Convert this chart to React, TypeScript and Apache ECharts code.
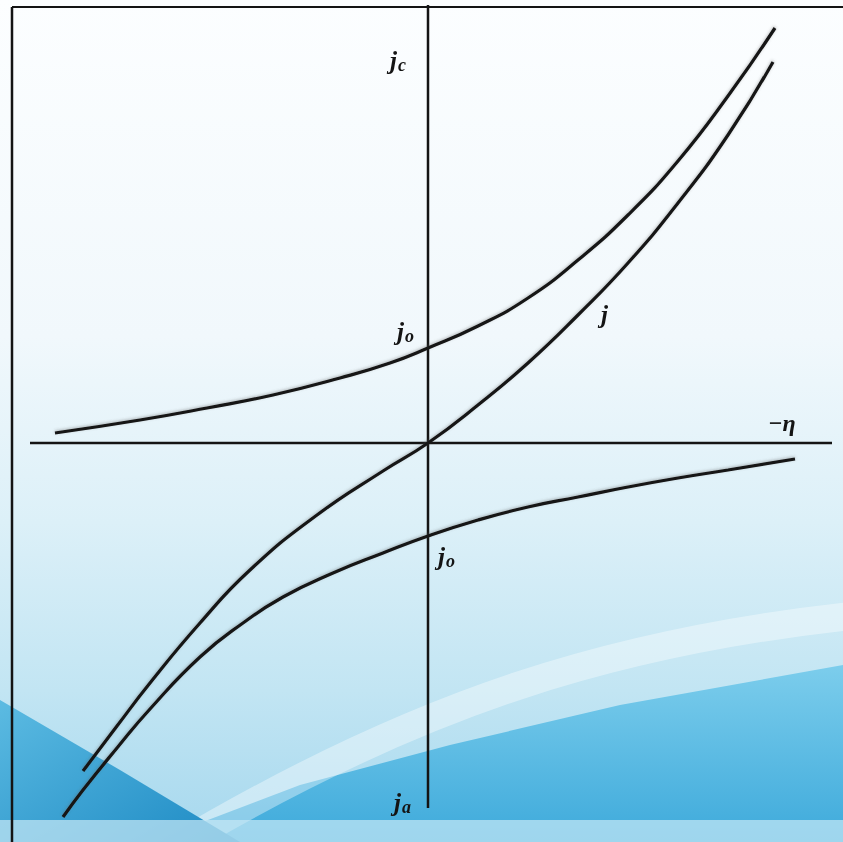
import React, { useEffect, useRef } from "react";
import * as echarts from "echarts";

// Overpotential axis (-η) and current density values, arbitrary units
const jcCurve: [number, number][] = [
  [-3.73, 0.1], [-2.88, 0.23], [-2.21, 0.35], [-1.55, 0.48], [-0.88, 0.65],
  [-0.38, 0.8], [0, 0.95], [0.5, 1.17], [1.0, 1.45], [1.5, 1.83],
  [2.0, 2.28], [2.5, 2.82], [3.0, 3.47], [3.47, 4.15],
];
const jNetCurve: [number, number][] = [
  [-3.45, -3.28], [-3.11, -2.83], [-2.78, -2.4], [-2.28, -1.8], [-1.78, -1.27],
  [-1.11, -0.72], [-0.45, -0.28], [0, 0], [0.5, 0.38], [1.0, 0.8],
  [1.5, 1.28], [2.0, 1.8], [2.5, 2.4], [3.0, 3.08], [3.45, 3.81],
];
const jaCurve: [number, number][] = [
  [-3.65, -3.74], [-3.45, -3.47], [-3.11, -3.05], [-2.78, -2.66], [-2.28, -2.14],
  [-1.85, -1.8], [-1.45, -1.54], [-0.95, -1.3], [-0.45, -1.1], [0, -0.93],
  [0.5, -0.77], [1.0, -0.64], [1.5, -0.54], [2.0, -0.44], [2.5, -0.35],
  [3.0, -0.27], [3.67, -0.16],
];
const etaAxisLine: [number, number][] = [[-3.98, 0], [4.04, 0]];
const currentAxisLine: [number, number][] = [[0, 4.38], [0, -3.65]];

const INK = "#141414";
const labelFont = "'Liberation Serif', 'DejaVu Serif', serif";

export default function App() {
  const ref = useRef<HTMLDivElement>(null);

  useEffect(() => {
    if (!ref.current) return;
    const chart = echarts.init(ref.current, null, { renderer: "svg" });

    const curve = (name: string, data: [number, number][], z = 5) => ({
      name,
      type: "line",
      data,
      smooth: 0.5,
      showSymbol: false,
      symbol: "none",
      z,
      lineStyle: {
        color: INK,
        width: 3.2,
        shadowColor: "rgba(90,90,90,0.4)",
        shadowBlur: 3,
        shadowOffsetY: -1,
      },
    });

    const straight = (name: string, data: [number, number][]) => ({
      name,
      type: "line",
      data,
      showSymbol: false,
      symbol: "none",
      z: 4,
      lineStyle: { color: INK, width: 2.5 },
    });

    const rich = {
      j: { fontFamily: labelFont, fontStyle: "italic", fontWeight: "bold", fontSize: 25, color: INK },
      s: { fontFamily: labelFont, fontStyle: "italic", fontWeight: "bold", fontSize: 18, color: INK, padding: [10, 0, 0, 1] },
    };

    const label = (x: number, y: number, main: string, sub?: string) => ({
      type: "text",
      x,
      y,
      z: 10,
      style: {
        text: sub ? `{j|${main}}{s|${sub}}` : `{j|${main}}`,
        rich,
        fill: INK,
      },
    });

    chart.setOption({
      animation: false,
      grid: { left: 0, right: 0, top: 0, bottom: 0 },
      xAxis: { type: "value", min: -4.28, max: 4.15, show: false },
      yAxis: { type: "value", min: -3.99, max: 4.43, show: false },
      graphic: [
        // paper background with blue wash toward the bottom
        {
          type: "rect",
          z: -10,
          shape: { x: 0, y: 0, width: 843, height: 842 },
          style: {
            fill: new echarts.graphic.LinearGradient(0, 0, 0, 1, [
              { offset: 0, color: "#fcfeff" },
              { offset: 0.4, color: "#f1f8fc" },
              { offset: 0.62, color: "#dcf0f8" },
              { offset: 0.82, color: "#c2e5f3" },
              { offset: 1, color: "#a6d8ee" },
            ]),
          },
        },
        {
          type: "polygon",
          z: -9,
          shape: {
            points: [[150, 842], [300, 785], [450, 745], [620, 705], [843, 665], [843, 842]],
          },
          style: {
            fill: new echarts.graphic.LinearGradient(0, 0, 0, 1, [
              { offset: 0, color: "#7ccdec" },
              { offset: 1, color: "#3eaadb" },
            ]),
          },
        },
        {
          type: "bezierCurve",
          z: -8,
          shape: { x1: 170, y1: 850, cpx1: 420, cpy1: 700, cpx2: 620, cpy2: 640, x2: 860, y2: 615 },
          style: { stroke: "rgba(255,255,255,0.38)", lineWidth: 28, fill: "none" },
        },
        {
          type: "polygon",
          z: -7,
          shape: { points: [[0, 700], [120, 770], [240, 842], [0, 842]] },
          style: {
            fill: new echarts.graphic.LinearGradient(0, 0, 1, 1, [
              { offset: 0, color: "#5cbbe2" },
              { offset: 1, color: "#1d8ac4" },
            ]),
          },
        },
        {
          type: "rect",
          z: -6,
          shape: { x: 0, y: 820, width: 843, height: 22 },
          style: { fill: "rgba(200,232,245,0.7)" },
        },
        // frame edges
        {
          type: "line",
          z: 3,
          shape: { x1: 12, y1: 7, x2: 12, y2: 842 },
          style: { stroke: INK, lineWidth: 2.5 },
        },
        {
          type: "line",
          z: 3,
          shape: { x1: 12, y1: 7, x2: 843, y2: 7 },
          style: { stroke: INK, lineWidth: 2 },
        },
        label(390, 46, "j", "c"),
        label(397, 317, "j", "o"),
        label(438, 542, "j", "o"),
        label(394, 788, "j", "a"),
        label(601, 302, "j"),
        {
          type: "text",
          x: 768,
          y: 411,
          z: 10,
          style: {
            text: "−η",
            fill: INK,
            font: `italic bold 24px ${labelFont}`,
          },
        },
      ],
      series: [
        straight("-η axis", etaAxisLine),
        straight("j axis", currentAxisLine),
        curve("jc", jcCurve),
        curve("j", jNetCurve),
        curve("ja", jaCurve),
      ],
    });

    return () => chart.dispose();
  }, []);

  return (
    <div
      ref={ref}
      style={{ position: "fixed", left: 0, top: 0, width: 843, height: 842 }}
    />
  );
}
